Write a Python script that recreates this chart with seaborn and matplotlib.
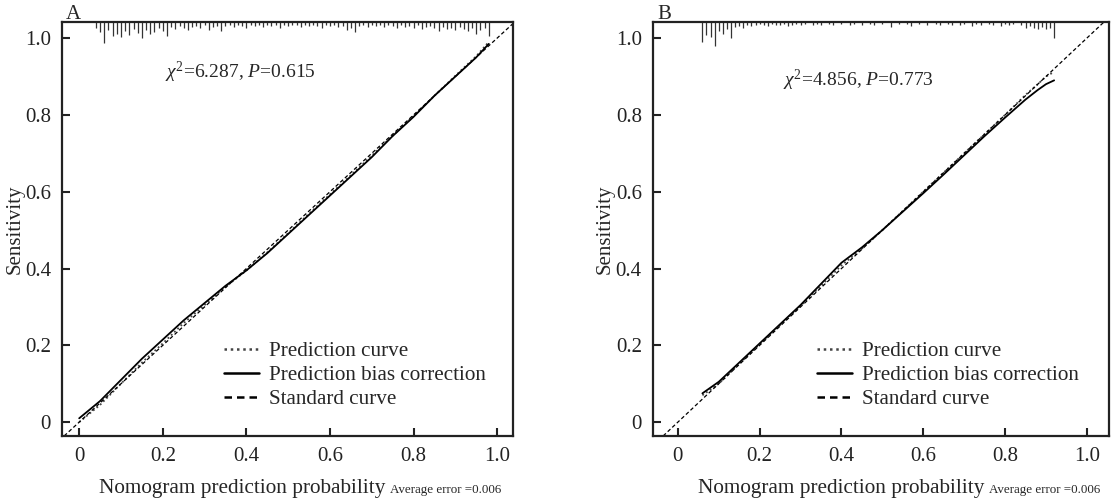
import numpy as np
import matplotlib
matplotlib.use("Agg")
import matplotlib.pyplot as plt
import seaborn as sns

# ---- data ----
# panel A calibration curves
a_x = [0.0, 0.05, 0.1, 0.15, 0.2, 0.25, 0.3, 0.35, 0.4, 0.45, 0.5,
       0.55, 0.6, 0.65, 0.7, 0.75, 0.8, 0.85, 0.9, 0.95, 0.98]
a_corrected = [0.01, 0.055, 0.11, 0.165, 0.215, 0.265, 0.31, 0.355, 0.395, 0.44, 0.49,
               0.54, 0.59, 0.64, 0.69, 0.745, 0.795, 0.85, 0.90, 0.95, 0.985]
a_apparent = [0.0, 0.045, 0.10, 0.155, 0.205, 0.258, 0.305, 0.352, 0.395, 0.442, 0.492,
              0.543, 0.593, 0.643, 0.694, 0.746, 0.797, 0.85, 0.902, 0.953, 0.99]

# panel B calibration curves
b_x = [0.06, 0.1, 0.15, 0.2, 0.25, 0.3, 0.35, 0.4, 0.45, 0.5,
       0.55, 0.6, 0.65, 0.7, 0.75, 0.8, 0.85, 0.88, 0.9, 0.92]
b_corrected = [0.075, 0.105, 0.155, 0.205, 0.255, 0.305, 0.36, 0.415, 0.455, 0.50,
               0.548, 0.596, 0.645, 0.695, 0.745, 0.793, 0.84, 0.865, 0.88, 0.89]
b_apparent = [0.07, 0.10, 0.152, 0.203, 0.253, 0.303, 0.355, 0.408, 0.452, 0.50,
              0.55, 0.60, 0.65, 0.70, 0.75, 0.80, 0.852, 0.88, 0.90, 0.912]

# spike histogram of predicted probabilities (top of each panel)
rug_a_x = [0.04, 0.05, 0.06, 0.07, 0.08, 0.09, 0.10, 0.11, 0.12, 0.13, 0.14, 0.15, 0.16,
           0.17, 0.18, 0.19, 0.20, 0.21, 0.22, 0.23, 0.24, 0.25, 0.26, 0.27, 0.28, 0.29,
           0.30, 0.31, 0.32, 0.33, 0.34, 0.35, 0.36, 0.37, 0.38, 0.39, 0.40, 0.41, 0.42,
           0.43, 0.44, 0.45, 0.46, 0.47, 0.48, 0.49, 0.50, 0.51, 0.52, 0.53, 0.54, 0.55,
           0.56, 0.57, 0.58, 0.59, 0.60, 0.61, 0.62, 0.63, 0.64, 0.65, 0.66, 0.67, 0.68,
           0.69, 0.70, 0.71, 0.72, 0.73, 0.74, 0.75, 0.76, 0.77, 0.78, 0.79, 0.80, 0.81,
           0.82, 0.83, 0.84, 0.85, 0.86, 0.87, 0.88, 0.89, 0.90, 0.91, 0.92, 0.93, 0.94,
           0.95, 0.96, 0.97, 0.98]
rug_a_n = [6, 10, 21, 8, 14, 12, 15, 9, 13, 7, 11, 16, 8,
           12, 10, 6, 9, 14, 5, 7, 4, 6, 8, 5, 4, 6,
           3, 8, 5, 4, 9, 4, 3, 5, 3, 4, 6, 3, 4,
           3, 5, 3, 4, 3, 6, 3, 4, 3, 3, 5, 3, 4,
           3, 4, 6, 3, 4, 3, 5, 4, 8, 6, 10, 4, 3,
           5, 3, 4, 3, 5, 3, 4, 6, 3, 5, 4, 6, 3,
           7, 5, 4, 6, 9, 5, 7, 6, 8, 5, 7, 9, 6,
           12, 8, 6, 14]

rug_b_x = [0.06, 0.07, 0.08, 0.09, 0.10, 0.11, 0.12, 0.13, 0.14, 0.15, 0.16, 0.17, 0.18,
           0.19, 0.20, 0.21, 0.22, 0.23, 0.24, 0.25, 0.26, 0.27, 0.28, 0.29, 0.30, 0.31,
           0.33, 0.34, 0.35, 0.37, 0.38, 0.40, 0.42, 0.43, 0.45, 0.47, 0.48, 0.50, 0.52,
           0.54, 0.56, 0.57, 0.59, 0.61, 0.63, 0.64, 0.66, 0.67, 0.69, 0.70, 0.72, 0.73,
           0.74, 0.76, 0.77, 0.79, 0.80, 0.81, 0.82, 0.84, 0.85, 0.86, 0.87, 0.88, 0.89,
           0.90, 0.91, 0.92]
rug_b_n = [20, 13, 15, 24, 9, 12, 7, 16, 5, 4, 6, 3, 4,
           3, 2, 3, 4, 2, 3, 3, 2, 4, 3, 2, 3, 2,
           3, 2, 3, 2, 3, 2, 3, 2, 3, 2, 3, 2, 5,
           2, 2, 4, 2, 3, 2, 3, 2, 3, 3, 2, 4, 2,
           3, 2, 3, 4, 2, 3, 2, 3, 6, 4, 6, 7, 5,
           7, 6, 16]

stat_a = r"$\chi^2$=6.287, $P$=0.615"
stat_b = r"$\chi^{2}$=4.856, $P$=0.773"
tick_labels = ["0", "0.2", "0.4", "0.6", "0.8", "1.0"]

panels = [
    dict(tag="A", x=a_x, corr=a_corrected, app=a_apparent, rx=rug_a_x, rn=rug_a_n,
         stat=stat_a, stat_xy=(0.206, 0.91), xlim=(-0.041, 1.038), xl_end=0.716),
    dict(tag="B", x=b_x, corr=b_corrected, app=b_apparent, rx=rug_b_x, rn=rug_b_n,
         stat=stat_b, stat_xy=(0.257, 0.89), xlim=(-0.061, 1.054), xl_end=0.726),
]

sns.set_style("ticks")
plt.rcParams["font.family"] = ["Liberation Serif", "DejaVu Serif"]
plt.rcParams["mathtext.fontset"] = "custom"
plt.rcParams["mathtext.rm"] = "Liberation Serif"
plt.rcParams["mathtext.it"] = "Liberation Serif:italic"

fig = plt.figure(figsize=(11.18, 5.04), dpi=100)
axes = [fig.add_axes([0.0555, 0.135, 0.4034, 0.8214]),
        fig.add_axes([0.584, 0.135, 0.4079, 0.8214])]

ytop = 1.042
for ax, p in zip(axes, panels):
    ax.set_xlim(*p["xlim"])
    ax.set_ylim(-0.036, ytop)

    # spike histogram hanging from the top spine
    ax.vlines(p["rx"], ytop - np.array(p["rn"]) / 384.0, ytop, color="#333333", lw=0.9)

    sns.lineplot(x=p["x"], y=p["app"], ax=ax, color="#444444", lw=1.3,
                 linestyle=(0, (1, 1.5)), label="Prediction curve")
    sns.lineplot(x=p["x"], y=p["corr"], ax=ax, color="black", lw=1.3,
                 label="Prediction bias correction")
    ax.axline((0, 0), (1, 1), color="black", lw=0.9, ls=(0, (3, 2)),
              label="Standard curve")

    ax.set_xticks([0, 0.2, 0.4, 0.6, 0.8, 1.0])
    ax.set_xticklabels(tick_labels)
    ax.set_yticks([0, 0.2, 0.4, 0.6, 0.8, 1.0])
    ax.set_yticklabels(tick_labels)
    ax.tick_params(direction="in", length=6, width=1.5, labelsize=15, pad=8, colors="#222222")
    for s in ax.spines.values():
        s.set_linewidth(1.6)
        s.set_color("#222222")

    ax.set_ylabel("Sensitivity", fontsize=15)
    ax.yaxis.set_label_coords(-0.084, 0.5)
    ax.text(p["xl_end"], -0.128, "Nomogram prediction probability", transform=ax.transAxes,
            ha="right", va="center", fontsize=15.3)
    ax.text(p["xl_end"] + 0.012, -0.131, "Average error =0.006", transform=ax.transAxes,
            ha="left", va="center", fontsize=9.4)

    ax.text(p["stat_xy"][0], p["stat_xy"][1], p["stat"], fontsize=14, va="center")
    ax.text(0.009, 1.018, p["tag"], transform=ax.transAxes,
            fontsize=15, va="center", ha="left")

    leg = ax.legend(loc="upper left", bbox_to_anchor=(0.36, 0.228), frameon=False,
                    fontsize=15.2, handlelength=1.65, handletextpad=0.47,
                    labelspacing=0.2, borderpad=0, borderaxespad=0)
    for h in leg.get_lines():
        h.set_linewidth(1.8)

fig.savefig("out.png", dpi=100, facecolor="white")
